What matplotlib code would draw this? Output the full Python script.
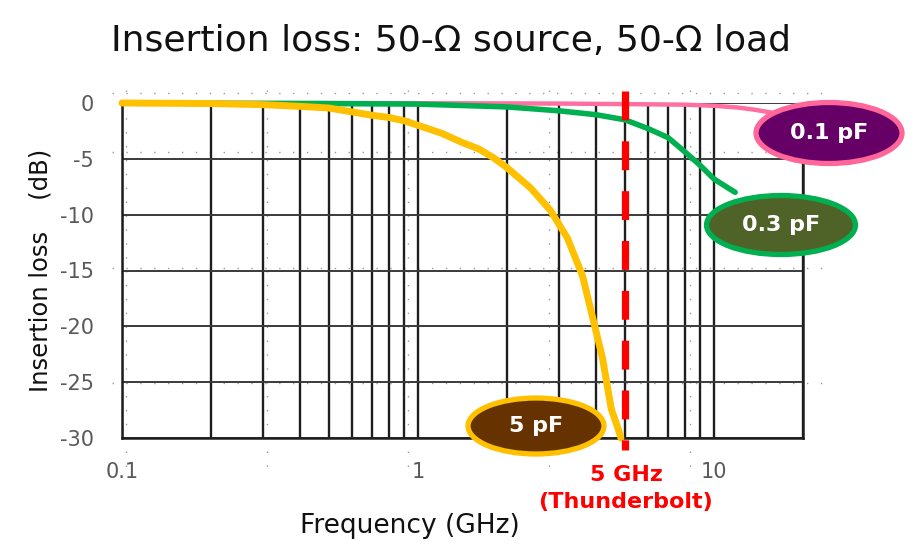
import numpy as np
import matplotlib
matplotlib.use("Agg")
import matplotlib.pyplot as plt
import matplotlib.transforms as mtransforms
from matplotlib.patches import Ellipse

# data (frequency in GHz, insertion loss in dB)
f_5pF = [0.1, 0.2, 0.3, 0.4, 0.5, 0.6, 0.7, 0.8, 0.9, 1.0, 1.2, 1.4, 1.6, 1.8,
         2.0, 2.4, 2.8, 3.2, 3.6, 3.9, 4.2, 4.5, 4.75, 4.85]
il_5pF = [0.0, -0.05, -0.15, -0.3, -0.45, -0.8, -1.1, -1.3, -1.6, -2.0, -2.7, -3.5, -4.1, -4.9,
          -5.8, -7.6, -9.6, -12.1, -15.5, -19.3, -22.8, -27.4, -29.2, -30.0]

f_03pF = [0.1, 0.5, 1.0, 2.0, 3.0, 4.0, 5.0, 6.0, 7.0, 8.0, 9.0, 10.0, 11.0, 11.8]
il_03pF = [0.0, -0.05, -0.1, -0.35, -0.7, -1.05, -1.5, -2.3, -3.1, -4.4, -5.6, -6.8, -7.5, -8.0]

f_01pF = [0.1, 1.0, 3.0, 5.0, 8.0, 10.0, 12.0, 13.7, 16.0]
il_01pF = [0.0, -0.02, -0.05, -0.1, -0.15, -0.25, -0.4, -0.6, -0.9]

x_ticks = [0.1, 1, 10]
x_ticklabels = ["0.1", "1", "10"]
y_ticks = [0, -5, -10, -15, -20, -25, -30]

W, H = 918, 557
plt.rcParams['font.family'] = ['DejaVu Sans']
plt.rcParams['axes.unicode_minus'] = False
fig = plt.figure(figsize=(W / 100, H / 100), dpi=100)

def fx(px):
    return px / W

def fy(py):
    return 1 - py / H

ax = fig.add_axes([fx(122), fy(438), (803 - 122) / W, (438 - 103) / H])
ax.set_xscale("log")
ax.set_xlim(0.1, 20)
ax.set_ylim(-30, 0)

# faint dotted grid of the underlying instrument plot
for px in [126, 267, 408, 549, 690]:
    fig.add_artist(plt.Line2D([fx(px), fx(px)], [fy(90), fy(470)], color="#9a9a9a",
                              lw=1.0, ls=(0, (1, 9)), zorder=0))
for py in [93, 152, 268, 383]:
    fig.add_artist(plt.Line2D([fx(112), fx(830)], [fy(py), fy(py)], color="#9a9a9a",
                              lw=1.0, ls=(0, (1, 9)), zorder=0))

ax.set_xticks(x_ticks)
ax.set_xticklabels(x_ticklabels)
ax.set_yticks(y_ticks)
ax.grid(which="both", axis="x", color="#1e1e1e", lw=1.7)
ax.grid(which="major", axis="y", color="#3a3a3a", lw=1.4)
ax.tick_params(which="both", length=0)
ax.tick_params(axis="y", pad=20, labelsize=15, labelcolor="#595959")
ax.tick_params(axis="x", pad=17, labelsize=15, labelcolor="#595959")
ax.patch.set_alpha(0)
ax.spines["top"].set_visible(False)
for s in ["left", "bottom", "right"]:
    ax.spines[s].set_color("#1e1e1e")
    ax.spines[s].set_linewidth(1.8)

ax.plot(f_01pF, il_01pF, color="#FF6F9F", lw=3.2, clip_on=False, zorder=3, solid_capstyle="round")
ax.plot(f_03pF, il_03pF, color="#00B050", lw=4, clip_on=False, zorder=4, solid_capstyle="round")
ax.plot(f_5pF, il_5pF, color="#FFC000", lw=5, clip_on=False, zorder=5, solid_capstyle="round")

# 5 GHz marker
trans = mtransforms.blended_transform_factory(ax.transData, ax.transAxes)
ax.plot([5, 5], [1.036, -0.035], transform=trans, color="#FF0000", lw=5.2,
        ls=(0, (4.0, 2.9)), clip_on=False, zorder=6, solid_capstyle="butt")
fig.text(fx(626), fy(475), "5 GHz", color="#FF0000", fontsize=16, fontweight="bold",
         ha="center", va="center")
fig.text(fx(626), fy(502), "(Thunderbolt)", color="#FF0000", fontsize=16, fontweight="bold",
         ha="center", va="center")

# capacitance labels
labels = [("0.1 pF", 829, 133, 146, 61, "#660066", "#FF6699"),
          ("0.3 pF", 781, 225, 149, 59, "#4F6228", "#00B050"),
          ("5 pF", 536, 426, 136, 56, "#663300", "#FFC000")]
for txt, cx, cy, w, h, fc, ec in labels:
    fig.add_artist(Ellipse((fx(cx), fy(cy)), w / W, h / H, facecolor=fc, edgecolor=ec,
                           lw=3.8, zorder=10))
    fig.text(fx(cx), fy(cy), txt, color="white", fontsize=16, fontweight="bold",
             ha="center", va="center", zorder=11)

fig.text(fx(451), fy(41), "Insertion loss: 50-\u03a9 source, 50-\u03a9 load",
         fontsize=26, ha="center", va="center", color="#111111")
fig.text(fx(41), fy(270), "Insertion loss    (dB)", rotation=90, fontsize=17.5,
         ha="center", va="center", color="#111111")
fig.text(fx(410), fy(526), "Frequency (GHz)", fontsize=19, ha="center", va="center",
         color="#111111")

fig.savefig("out.png", dpi=100)
